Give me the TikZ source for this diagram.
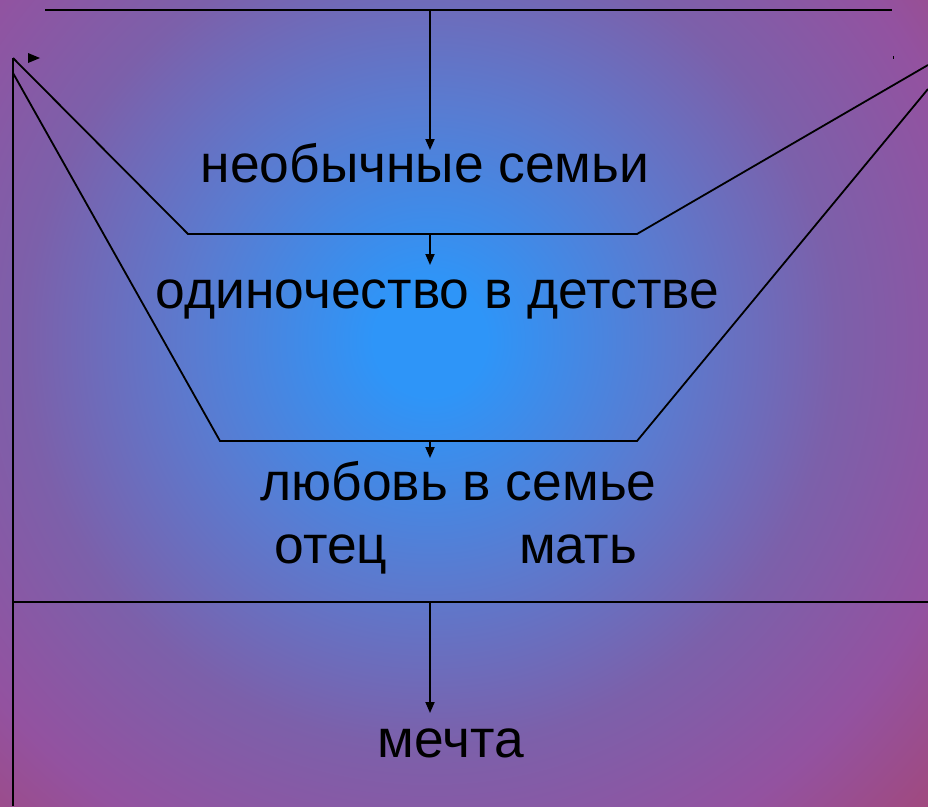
\documentclass[tikz,border=0pt]{standalone}
\usepackage{fontspec}
\setmainfont{Liberation Sans}
\usepackage{xcolor}
\usepackage{tikz}
\usetikzlibrary{arrows.meta,positioning}
\definecolor{bgCore}{HTML}{2E95F8}
\definecolor{bgMid}{HTML}{5A7BD0}
\definecolor{bgEdge}{HTML}{7C60AA}
\definecolor{bgOuter}{HTML}{9352A0}
\definecolor{bgCorner}{HTML}{A2487A}
\pgfdeclareradialshading{bgglow}{\pgfpoint{0bp}{0bp}}{%
  color(0bp)=(bgCore); color(2bp)=(bgCore); color(8.5bp)=(bgMid);
  color(14.5bp)=(bgEdge); color(20bp)=(bgOuter); color(25bp)=(bgCorner);
  color(50bp)=(bgCorner)}

\begin{document}
\begin{tikzpicture}[
  x=1pt, y=-1pt,
  word/.style={font=\fontsize{53.4}{60}\selectfont, text=black, inner sep=0pt, anchor=base},
  frame/.style={line width=1.8pt, draw=black},
  arrow/.style={-{Triangle[length=11pt,width=9pt]}, line width=1.8pt, draw=black}
]
  % background
  \useasboundingbox (0,0) rectangle (928,806);
  \begin{scope}
    \clip (0,0) rectangle (928,806);
    \shade[shading=bgglow] (-270,-360) rectangle (1130,1040);
  \end{scope}

  % frame lines
  \coordinate (topL) at (45,10);
  \coordinate (topR) at (892,10);
  \coordinate (topC) at (430,10);
  \coordinate (sideT) at (13,58);
  \coordinate (sideB) at (13,806);
  \coordinate (baseL) at (13,602);
  \coordinate (baseR) at (928,602);
  \coordinate (baseC) at (430,602);
  \draw[frame] (topL) -- (topR);
  \draw[frame] (sideT) -- (sideB);
  \draw[frame] (baseL) -- (baseR);

  % two trapezoids
  \coordinate (upperL) at (188,234);
  \coordinate (upperR) at (637,234);
  \coordinate (upperC) at (430,234);
  \coordinate (lowerL) at (220,441);
  \coordinate (lowerR) at (637,441);
  \coordinate (lowerC) at (430,441);
  \draw[frame] (sideT) -- (upperL) -- (upperR) -- (928,65);
  \draw[frame] (13,73) -- (lowerL) -- (lowerR) -- (928,89);

  % labels
  \node[word] (unusual) at (425,182) {необычные семьи};
  \node[word] (lonely) at (437.5,308) {одиночество в детстве};
  \node[word] (love) at (458.5,500) {любовь в семье};
  \node[word] (father) at (331,563) {отец};
  \node[word] (mother) at (578,563) {мать};
  \node[word] (dream) at (451,757) {мечта};

  % arrows
  \coordinate (tip1) at (430,150);
  \coordinate (tip2) at (430,265);
  \coordinate (tip3) at (430,458);
  \coordinate (tip4) at (430,713);
  \draw[arrow] (topC) -- (tip1);
  \draw[arrow] (upperC) -- (tip2);
  \draw[arrow] (lowerC) -- (tip3);
  \draw[arrow] (baseC) -- (tip4);

  % stray marks
  \fill (28,53) -- (40,58) -- (28,63) -- cycle;
  \fill (892.5,56) rectangle (893.5,59);
\end{tikzpicture}
\end{document}
